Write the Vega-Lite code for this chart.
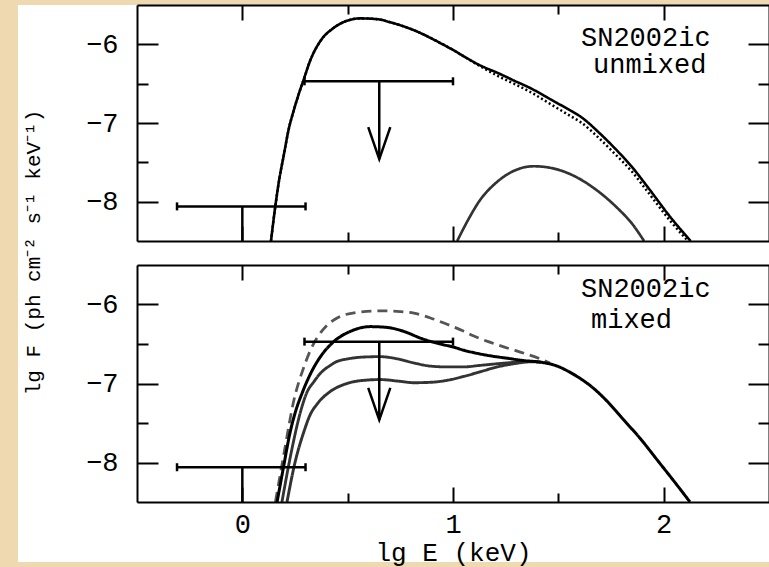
{
  "$schema": "https://vega.github.io/schema/vega-lite/v6.json",
  "background": "#EED9B1",
  "padding": {"left": 17, "top": 4, "right": 0, "bottom": 5},
  "bounds": "flush",
  "spacing": 24,
  "config": {
    "font": "Liberation Mono",
    "view": {"stroke": null},
    "axis": {
      "grid": false,
      "labelFont": "Liberation Mono",
      "labelFontSize": 27,
      "labelColor": "black",
      "titleFont": "Liberation Mono",
      "titleFontWeight": "normal",
      "titleColor": "black",
      "labelFlush": false,
      "labelOverlap": false
    }
  },
  "datasets": {
    "labels": [
      {"panel": "unmixed", "line": 1, "text": "SN2002ic"},
      {"panel": "unmixed", "line": 2, "text": "unmixed"},
      {"panel": "mixed", "line": 1, "text": "SN2002ic"},
      {"panel": "mixed", "line": 2, "text": "mixed"}
    ],
    "limits": [
      {"kind": "detection", "x": 0, "xlo": -0.31, "xhi": 0.3, "y": -8.06, "ylo": -8.5},
      {"kind": "upper", "x": 0.65, "xlo": 0.295, "xhi": 1.0, "y": -6.47, "ylo": -7.46}
    ],
    "curves": [
      {"panel": "unmixed", "series": "U dotted", "lgE": 0.136, "lgF": -8.5},
      {"panel": "unmixed", "series": "U dotted", "lgE": 0.157, "lgF": -8.05},
      {"panel": "unmixed", "series": "U dotted", "lgE": 0.175, "lgF": -7.72},
      {"panel": "unmixed", "series": "U dotted", "lgE": 0.196, "lgF": -7.42},
      {"panel": "unmixed", "series": "U dotted", "lgE": 0.22, "lgF": -7.08},
      {"panel": "unmixed", "series": "U dotted", "lgE": 0.244, "lgF": -6.84},
      {"panel": "unmixed", "series": "U dotted", "lgE": 0.268, "lgF": -6.63},
      {"panel": "unmixed", "series": "U dotted", "lgE": 0.291, "lgF": -6.45},
      {"panel": "unmixed", "series": "U dotted", "lgE": 0.323, "lgF": -6.2},
      {"panel": "unmixed", "series": "U dotted", "lgE": 0.37, "lgF": -5.96},
      {"panel": "unmixed", "series": "U dotted", "lgE": 0.434, "lgF": -5.79},
      {"panel": "unmixed", "series": "U dotted", "lgE": 0.497, "lgF": -5.7},
      {"panel": "unmixed", "series": "U dotted", "lgE": 0.56, "lgF": -5.67},
      {"panel": "unmixed", "series": "U dotted", "lgE": 0.64, "lgF": -5.68},
      {"panel": "unmixed", "series": "U dotted", "lgE": 0.703, "lgF": -5.72},
      {"panel": "unmixed", "series": "U dotted", "lgE": 0.814, "lgF": -5.82},
      {"panel": "unmixed", "series": "U dotted", "lgE": 0.972, "lgF": -6.03},
      {"panel": "unmixed", "series": "U dotted", "lgE": 1.131, "lgF": -6.28},
      {"panel": "unmixed", "series": "U dotted", "lgE": 1.226, "lgF": -6.42},
      {"panel": "unmixed", "series": "U dotted", "lgE": 1.289, "lgF": -6.5},
      {"panel": "unmixed", "series": "U dotted", "lgE": 1.37, "lgF": -6.61},
      {"panel": "unmixed", "series": "U dotted", "lgE": 1.463, "lgF": -6.76},
      {"panel": "unmixed", "series": "U dotted", "lgE": 1.55, "lgF": -6.9},
      {"panel": "unmixed", "series": "U dotted", "lgE": 1.606, "lgF": -6.99},
      {"panel": "unmixed", "series": "U dotted", "lgE": 1.7, "lgF": -7.21},
      {"panel": "unmixed", "series": "U dotted", "lgE": 1.764, "lgF": -7.38},
      {"panel": "unmixed", "series": "U dotted", "lgE": 1.85, "lgF": -7.62},
      {"panel": "unmixed", "series": "U dotted", "lgE": 1.923, "lgF": -7.87},
      {"panel": "unmixed", "series": "U dotted", "lgE": 2.033, "lgF": -8.25},
      {"panel": "unmixed", "series": "U dotted", "lgE": 2.115, "lgF": -8.5},

      {"panel": "unmixed", "series": "U total", "lgE": 0.136, "lgF": -8.5},
      {"panel": "unmixed", "series": "U total", "lgE": 0.157, "lgF": -8.05},
      {"panel": "unmixed", "series": "U total", "lgE": 0.175, "lgF": -7.72},
      {"panel": "unmixed", "series": "U total", "lgE": 0.196, "lgF": -7.42},
      {"panel": "unmixed", "series": "U total", "lgE": 0.22, "lgF": -7.08},
      {"panel": "unmixed", "series": "U total", "lgE": 0.244, "lgF": -6.84},
      {"panel": "unmixed", "series": "U total", "lgE": 0.268, "lgF": -6.63},
      {"panel": "unmixed", "series": "U total", "lgE": 0.291, "lgF": -6.45},
      {"panel": "unmixed", "series": "U total", "lgE": 0.323, "lgF": -6.2},
      {"panel": "unmixed", "series": "U total", "lgE": 0.37, "lgF": -5.96},
      {"panel": "unmixed", "series": "U total", "lgE": 0.434, "lgF": -5.79},
      {"panel": "unmixed", "series": "U total", "lgE": 0.497, "lgF": -5.7},
      {"panel": "unmixed", "series": "U total", "lgE": 0.56, "lgF": -5.67},
      {"panel": "unmixed", "series": "U total", "lgE": 0.64, "lgF": -5.68},
      {"panel": "unmixed", "series": "U total", "lgE": 0.703, "lgF": -5.72},
      {"panel": "unmixed", "series": "U total", "lgE": 0.814, "lgF": -5.82},
      {"panel": "unmixed", "series": "U total", "lgE": 0.972, "lgF": -6.03},
      {"panel": "unmixed", "series": "U total", "lgE": 1.131, "lgF": -6.27},
      {"panel": "unmixed", "series": "U total", "lgE": 1.226, "lgF": -6.38},
      {"panel": "unmixed", "series": "U total", "lgE": 1.289, "lgF": -6.46},
      {"panel": "unmixed", "series": "U total", "lgE": 1.37, "lgF": -6.56},
      {"panel": "unmixed", "series": "U total", "lgE": 1.463, "lgF": -6.7},
      {"panel": "unmixed", "series": "U total", "lgE": 1.55, "lgF": -6.83},
      {"panel": "unmixed", "series": "U total", "lgE": 1.606, "lgF": -6.92},
      {"panel": "unmixed", "series": "U total", "lgE": 1.7, "lgF": -7.14},
      {"panel": "unmixed", "series": "U total", "lgE": 1.764, "lgF": -7.31},
      {"panel": "unmixed", "series": "U total", "lgE": 1.85, "lgF": -7.56},
      {"panel": "unmixed", "series": "U total", "lgE": 1.923, "lgF": -7.81},
      {"panel": "unmixed", "series": "U total", "lgE": 2.033, "lgF": -8.2},
      {"panel": "unmixed", "series": "U total", "lgE": 2.128, "lgF": -8.5},

      {"panel": "unmixed", "series": "U thin", "lgE": 1.02, "lgF": -8.5},
      {"panel": "unmixed", "series": "U thin", "lgE": 1.07, "lgF": -8.24},
      {"panel": "unmixed", "series": "U thin", "lgE": 1.131, "lgF": -7.97},
      {"panel": "unmixed", "series": "U thin", "lgE": 1.2, "lgF": -7.77},
      {"panel": "unmixed", "series": "U thin", "lgE": 1.28, "lgF": -7.62},
      {"panel": "unmixed", "series": "U thin", "lgE": 1.384, "lgF": -7.55},
      {"panel": "unmixed", "series": "U thin", "lgE": 1.48, "lgF": -7.58},
      {"panel": "unmixed", "series": "U thin", "lgE": 1.58, "lgF": -7.68},
      {"panel": "unmixed", "series": "U thin", "lgE": 1.68, "lgF": -7.85},
      {"panel": "unmixed", "series": "U thin", "lgE": 1.78, "lgF": -8.08},
      {"panel": "unmixed", "series": "U thin", "lgE": 1.85, "lgF": -8.28},
      {"panel": "unmixed", "series": "U thin", "lgE": 1.907, "lgF": -8.5},

      {"panel": "mixed", "series": "M dashed", "lgE": 0.157, "lgF": -8.5},
      {"panel": "mixed", "series": "M dashed", "lgE": 0.2, "lgF": -7.85},
      {"panel": "mixed", "series": "M dashed", "lgE": 0.244, "lgF": -7.22},
      {"panel": "mixed", "series": "M dashed", "lgE": 0.291, "lgF": -6.8},
      {"panel": "mixed", "series": "M dashed", "lgE": 0.323, "lgF": -6.58},
      {"panel": "mixed", "series": "M dashed", "lgE": 0.355, "lgF": -6.42},
      {"panel": "mixed", "series": "M dashed", "lgE": 0.4, "lgF": -6.27},
      {"panel": "mixed", "series": "M dashed", "lgE": 0.45, "lgF": -6.17},
      {"panel": "mixed", "series": "M dashed", "lgE": 0.545, "lgF": -6.1},
      {"panel": "mixed", "series": "M dashed", "lgE": 0.656, "lgF": -6.08},
      {"panel": "mixed", "series": "M dashed", "lgE": 0.75, "lgF": -6.09},
      {"panel": "mixed", "series": "M dashed", "lgE": 0.814, "lgF": -6.11},
      {"panel": "mixed", "series": "M dashed", "lgE": 0.893, "lgF": -6.17},
      {"panel": "mixed", "series": "M dashed", "lgE": 0.972, "lgF": -6.25},
      {"panel": "mixed", "series": "M dashed", "lgE": 1.052, "lgF": -6.34},
      {"panel": "mixed", "series": "M dashed", "lgE": 1.099, "lgF": -6.4},
      {"panel": "mixed", "series": "M dashed", "lgE": 1.178, "lgF": -6.48},
      {"panel": "mixed", "series": "M dashed", "lgE": 1.257, "lgF": -6.55},
      {"panel": "mixed", "series": "M dashed", "lgE": 1.34, "lgF": -6.62},
      {"panel": "mixed", "series": "M dashed", "lgE": 1.416, "lgF": -6.69},
      {"panel": "mixed", "series": "M dashed", "lgE": 1.46, "lgF": -6.74},

      {"panel": "mixed", "series": "M thin 1", "lgE": 0.188, "lgF": -8.5},
      {"panel": "mixed", "series": "M thin 1", "lgE": 0.23, "lgF": -7.9},
      {"panel": "mixed", "series": "M thin 1", "lgE": 0.276, "lgF": -7.36},
      {"panel": "mixed", "series": "M thin 1", "lgE": 0.307, "lgF": -7.11},
      {"panel": "mixed", "series": "M thin 1", "lgE": 0.339, "lgF": -6.98},
      {"panel": "mixed", "series": "M thin 1", "lgE": 0.371, "lgF": -6.87},
      {"panel": "mixed", "series": "M thin 1", "lgE": 0.418, "lgF": -6.77},
      {"panel": "mixed", "series": "M thin 1", "lgE": 0.45, "lgF": -6.72},
      {"panel": "mixed", "series": "M thin 1", "lgE": 0.497, "lgF": -6.69},
      {"panel": "mixed", "series": "M thin 1", "lgE": 0.576, "lgF": -6.665},
      {"panel": "mixed", "series": "M thin 1", "lgE": 0.656, "lgF": -6.66},
      {"panel": "mixed", "series": "M thin 1", "lgE": 0.72, "lgF": -6.68},
      {"panel": "mixed", "series": "M thin 1", "lgE": 0.814, "lgF": -6.74},
      {"panel": "mixed", "series": "M thin 1", "lgE": 0.893, "lgF": -6.78},
      {"panel": "mixed", "series": "M thin 1", "lgE": 0.972, "lgF": -6.79},
      {"panel": "mixed", "series": "M thin 1", "lgE": 1.05, "lgF": -6.79},
      {"panel": "mixed", "series": "M thin 1", "lgE": 1.131, "lgF": -6.77},
      {"panel": "mixed", "series": "M thin 1", "lgE": 1.21, "lgF": -6.75},
      {"panel": "mixed", "series": "M thin 1", "lgE": 1.3, "lgF": -6.73},
      {"panel": "mixed", "series": "M thin 1", "lgE": 1.37, "lgF": -6.72},
      {"panel": "mixed", "series": "M thin 1", "lgE": 1.416, "lgF": -6.73},

      {"panel": "mixed", "series": "M thin 2", "lgE": 0.212, "lgF": -8.5},
      {"panel": "mixed", "series": "M thin 2", "lgE": 0.25, "lgF": -8.0},
      {"panel": "mixed", "series": "M thin 2", "lgE": 0.291, "lgF": -7.62},
      {"panel": "mixed", "series": "M thin 2", "lgE": 0.323, "lgF": -7.39},
      {"panel": "mixed", "series": "M thin 2", "lgE": 0.355, "lgF": -7.26},
      {"panel": "mixed", "series": "M thin 2", "lgE": 0.418, "lgF": -7.1},
      {"panel": "mixed", "series": "M thin 2", "lgE": 0.497, "lgF": -7.0},
      {"panel": "mixed", "series": "M thin 2", "lgE": 0.576, "lgF": -6.96},
      {"panel": "mixed", "series": "M thin 2", "lgE": 0.656, "lgF": -6.95},
      {"panel": "mixed", "series": "M thin 2", "lgE": 0.74, "lgF": -6.97},
      {"panel": "mixed", "series": "M thin 2", "lgE": 0.814, "lgF": -6.99},
      {"panel": "mixed", "series": "M thin 2", "lgE": 0.893, "lgF": -6.985},
      {"panel": "mixed", "series": "M thin 2", "lgE": 0.972, "lgF": -6.96},
      {"panel": "mixed", "series": "M thin 2", "lgE": 1.052, "lgF": -6.91},
      {"panel": "mixed", "series": "M thin 2", "lgE": 1.131, "lgF": -6.85},
      {"panel": "mixed", "series": "M thin 2", "lgE": 1.21, "lgF": -6.79},
      {"panel": "mixed", "series": "M thin 2", "lgE": 1.3, "lgF": -6.745},
      {"panel": "mixed", "series": "M thin 2", "lgE": 1.37, "lgF": -6.725},
      {"panel": "mixed", "series": "M thin 2", "lgE": 1.416, "lgF": -6.73},

      {"panel": "mixed", "series": "M thick", "lgE": 0.165, "lgF": -8.5},
      {"panel": "mixed", "series": "M thick", "lgE": 0.196, "lgF": -8.05},
      {"panel": "mixed", "series": "M thick", "lgE": 0.225, "lgF": -7.64},
      {"panel": "mixed", "series": "M thick", "lgE": 0.252, "lgF": -7.36},
      {"panel": "mixed", "series": "M thick", "lgE": 0.284, "lgF": -7.12},
      {"panel": "mixed", "series": "M thick", "lgE": 0.323, "lgF": -6.88},
      {"panel": "mixed", "series": "M thick", "lgE": 0.371, "lgF": -6.66},
      {"panel": "mixed", "series": "M thick", "lgE": 0.434, "lgF": -6.47},
      {"panel": "mixed", "series": "M thick", "lgE": 0.513, "lgF": -6.34},
      {"panel": "mixed", "series": "M thick", "lgE": 0.608, "lgF": -6.28},
      {"panel": "mixed", "series": "M thick", "lgE": 0.687, "lgF": -6.29},
      {"panel": "mixed", "series": "M thick", "lgE": 0.766, "lgF": -6.34},
      {"panel": "mixed", "series": "M thick", "lgE": 0.85, "lgF": -6.43},
      {"panel": "mixed", "series": "M thick", "lgE": 0.94, "lgF": -6.5},
      {"panel": "mixed", "series": "M thick", "lgE": 1.004, "lgF": -6.54},
      {"panel": "mixed", "series": "M thick", "lgE": 1.052, "lgF": -6.58},
      {"panel": "mixed", "series": "M thick", "lgE": 1.1, "lgF": -6.61},
      {"panel": "mixed", "series": "M thick", "lgE": 1.178, "lgF": -6.65},
      {"panel": "mixed", "series": "M thick", "lgE": 1.257, "lgF": -6.68},
      {"panel": "mixed", "series": "M thick", "lgE": 1.336, "lgF": -6.71},
      {"panel": "mixed", "series": "M thick", "lgE": 1.416, "lgF": -6.73},
      {"panel": "mixed", "series": "M thick", "lgE": 1.495, "lgF": -6.78},
      {"panel": "mixed", "series": "M thick", "lgE": 1.55, "lgF": -6.85},
      {"panel": "mixed", "series": "M thick", "lgE": 1.606, "lgF": -6.94},
      {"panel": "mixed", "series": "M thick", "lgE": 1.653, "lgF": -7.03},
      {"panel": "mixed", "series": "M thick", "lgE": 1.73, "lgF": -7.22},
      {"panel": "mixed", "series": "M thick", "lgE": 1.81, "lgF": -7.46},
      {"panel": "mixed", "series": "M thick", "lgE": 1.89, "lgF": -7.7},
      {"panel": "mixed", "series": "M thick", "lgE": 1.97, "lgF": -7.97},
      {"panel": "mixed", "series": "M thick", "lgE": 2.05, "lgF": -8.24},
      {"panel": "mixed", "series": "M thick", "lgE": 2.125, "lgF": -8.5}
    ]
  },
  "vconcat": [
    {
      "width": 632,
      "height": 236,
      "resolve": {"axis": {"x": "independent", "y": "independent"}},
      "layer": [
        {
          "data": {"name": "labels"},
          "transform": [{"filter": "datum.panel === 'unmixed' && datum.line === 1"}],
          "mark": {"type": "rect", "color": "white"},
          "encoding": {
            "x": {"datum": -1.065, "type": "quantitative", "scale": {"domain": [-0.5, 2.5], "nice": false, "zero": false}, "axis": null},
            "x2": {"datum": 2.504},
            "y": {"datum": -5.5, "type": "quantitative", "scale": {"domain": [-8.5, -5.5], "nice": false, "zero": false}, "axis": null},
            "y2": {"datum": -8.7}
          }
        },
        {
          "data": {"name": "curves"},
          "transform": [{"filter": "datum.panel === 'unmixed'"}],
          "mark": {"type": "line", "interpolate": "monotone", "clip": true},
          "encoding": {
            "x": {"field": "lgE", "type": "quantitative", "scale": {"domain": [-0.5, 2.5], "nice": false, "zero": false}, "axis": null},
            "y": {"field": "lgF", "type": "quantitative", "scale": {"domain": [-8.5, -5.5], "nice": false, "zero": false},
              "axis": {"orient": "left", "zindex": 1, "values": [-8, -7, -6], "ticks": false, "domain": false, "labelPadding": 19, "title": null}},
            "detail": {"field": "series"},
            "color": {"field": "series", "legend": null, "scale": {"domain": ["U dotted", "U total", "U thin", "M dashed", "M thin 1", "M thin 2", "M thick"], "range": ["black", "black", "#333333", "#555555", "#333333", "#333333", "black"]}},
            "strokeWidth": {"field": "series", "legend": null, "scale": {"domain": ["U dotted", "U total", "U thin", "M dashed", "M thin 1", "M thin 2", "M thick"], "range": [2.5, 3, 1.2, 1.2, 1.2, 1.2, 3]}},
            "strokeDash": {"field": "series", "legend": null, "scale": {"domain": ["U dotted", "U total", "U thin", "M dashed", "M thin 1", "M thin 2", "M thick"], "range": [[2, 2.5], [1, 0], [1, 0], [10, 6], [1, 0], [1, 0], [1, 0]]}}
          }
        },
        {
          "data": {"name": "limits"},
          "mark": {"type": "rule", "strokeWidth": 2.5, "color": "black"},
          "encoding": {
            "x": {"field": "xlo", "type": "quantitative", "scale": {"domain": [-0.5, 2.5], "nice": false, "zero": false},
              "axis": {"orient": "bottom", "zindex": 1, "labels": false, "title": null, "values": [0, 0.5, 1, 1.5, 2], "domainWidth": 2, "domainColor": "black", "tickWidth": 2, "tickColor": "black",
                "tickSize": {"condition": {"test": "datum.value % 1 !== 0", "value": -9}, "value": -15}}},
            "x2": {"field": "xhi"},
            "y": {"field": "y", "type": "quantitative", "scale": {"domain": [-8.5, -5.5], "nice": false, "zero": false},
              "axis": {"orient": "left", "zindex": 1, "labels": false, "title": null, "values": [-8, -7.5, -7, -6.5, -6], "domainWidth": 2, "domainColor": "black", "tickWidth": 2, "tickColor": "black",
                "tickSize": {"condition": {"test": "datum.value % 1 !== 0", "value": -11}, "value": -21}}}
          }
        },
        {
          "data": {"name": "limits"},
          "mark": {"type": "rule", "strokeWidth": 2.5, "color": "black"},
          "encoding": {
            "x": {"field": "x", "type": "quantitative", "scale": {"domain": [-0.5, 2.5], "nice": false, "zero": false},
              "axis": {"orient": "top", "zindex": 1, "labels": false, "title": null, "values": [0, 0.5, 1, 1.5, 2], "domainWidth": 2, "domainColor": "black", "tickWidth": 2, "tickColor": "black",
                "tickSize": {"condition": {"test": "datum.value % 1 !== 0", "value": -9}, "value": -15}}},
            "y": {"field": "y", "type": "quantitative", "scale": {"domain": [-8.5, -5.5], "nice": false, "zero": false},
              "axis": {"orient": "right", "zindex": 1, "labels": false, "title": null, "values": [-8, -7.5, -7, -6.5, -6], "domainWidth": 2, "domainColor": "black", "tickWidth": 2, "tickColor": "black",
                "tickSize": {"condition": {"test": "datum.value % 1 !== 0", "value": -11}, "value": -21}}},
            "y2": {"field": "ylo"}
          }
        },
        {
          "data": {"name": "limits"},
          "transform": [{"fold": ["xlo", "xhi"], "as": ["end", "xe"]}],
          "mark": {"type": "point", "shape": "M0,-1L0,1", "size": 64, "filled": false, "strokeWidth": 2.5, "color": "black", "opacity": 1},
          "encoding": {
            "x": {"field": "xe", "type": "quantitative", "scale": {"domain": [-0.5, 2.5], "nice": false, "zero": false}, "axis": null},
            "y": {"field": "y", "type": "quantitative", "scale": {"domain": [-8.5, -5.5], "nice": false, "zero": false}, "axis": null}
          }
        },
        {
          "data": {"name": "limits"},
          "transform": [{"filter": "datum.kind === 'upper'"}],
          "mark": {"type": "point", "shape": "M-0.69,-2L0,0L0.69,-2", "size": 1024, "filled": false, "strokeWidth": 2.5, "color": "black", "opacity": 1},
          "encoding": {
            "x": {"field": "x", "type": "quantitative", "scale": {"domain": [-0.5, 2.5], "nice": false, "zero": false}, "axis": null},
            "y": {"field": "ylo", "type": "quantitative", "scale": {"domain": [-8.5, -5.5], "nice": false, "zero": false}, "axis": null}
          }
        },
        {
          "data": {"name": "labels"},
          "transform": [{"filter": "datum.panel === 'unmixed' && datum.line === 1"}],
          "mark": {"type": "text", "align": "left", "baseline": "alphabetic", "font": "Liberation Mono", "fontSize": 27, "color": "black"},
          "encoding": {
            "x": {"datum": 1.6076, "type": "quantitative", "scale": {"domain": [-0.5, 2.5], "nice": false, "zero": false}, "axis": null},
            "y": {"datum": -6.02, "type": "quantitative", "scale": {"domain": [-8.5, -5.5], "nice": false, "zero": false}, "axis": null},
            "text": {"field": "text"}
          }
        },
        {
          "data": {"name": "labels"},
          "transform": [{"filter": "datum.panel === 'unmixed' && datum.line === 2"}],
          "mark": {"type": "text", "align": "left", "baseline": "alphabetic", "font": "Liberation Mono", "fontSize": 27, "color": "black"},
          "encoding": {
            "x": {"datum": 1.6646, "type": "quantitative", "scale": {"domain": [-0.5, 2.5], "nice": false, "zero": false}, "axis": null},
            "y": {"datum": -6.37, "type": "quantitative", "scale": {"domain": [-8.5, -5.5], "nice": false, "zero": false}, "axis": null},
            "text": {"field": "text"}
          }
        }
      ]
    },
    {
      "width": 632,
      "height": 237,
      "resolve": {"axis": {"x": "independent", "y": "independent"}},
      "layer": [
        {
          "data": {"name": "labels"},
          "transform": [{"filter": "datum.panel === 'mixed' && datum.line === 1"}],
          "mark": {"type": "rect", "color": "white"},
          "encoding": {
            "x": {"datum": -1.065, "type": "quantitative", "scale": {"domain": [-0.5, 2.5], "nice": false, "zero": false}, "axis": null},
            "x2": {"datum": 2.504},
            "y": {"datum": -5.3, "type": "quantitative", "scale": {"domain": [-8.5, -5.5], "nice": false, "zero": false}, "axis": null},
            "y2": {"datum": -9.26}
          }
        },
        {
          "data": {"name": "curves"},
          "transform": [{"filter": "datum.panel === 'mixed'"}],
          "mark": {"type": "line", "interpolate": "monotone", "clip": true},
          "encoding": {
            "x": {"field": "lgE", "type": "quantitative", "scale": {"domain": [-0.5, 2.5], "nice": false, "zero": false},
              "axis": {"orient": "bottom", "zindex": 1, "values": [0, 1, 2], "ticks": false, "domain": false, "labelPadding": 9,
                "title": "lg E (keV)", "titleFontSize": 26, "titleY": 50, "titleBaseline": "middle"}},
            "y": {"field": "lgF", "type": "quantitative", "scale": {"domain": [-8.5, -5.5], "nice": false, "zero": false},
              "axis": {"orient": "left", "zindex": 1, "values": [-8, -7, -6], "ticks": false, "domain": false, "labelPadding": 19,
                "title": "lg F (ph cm⁻² s⁻¹ keV⁻¹)", "titleFontSize": 21, "titleAngle": 270, "titleX": -104, "titleY": -13,
                "titleAlign": "center", "titleBaseline": "middle"}},
            "detail": {"field": "series"},
            "color": {"field": "series", "legend": null, "scale": {"domain": ["U dotted", "U total", "U thin", "M dashed", "M thin 1", "M thin 2", "M thick"], "range": ["black", "black", "#333333", "#555555", "#333333", "#333333", "black"]}},
            "strokeWidth": {"field": "series", "legend": null, "scale": {"domain": ["U dotted", "U total", "U thin", "M dashed", "M thin 1", "M thin 2", "M thick"], "range": [2.5, 3, 1.2, 1.2, 1.2, 1.2, 3]}},
            "strokeDash": {"field": "series", "legend": null, "scale": {"domain": ["U dotted", "U total", "U thin", "M dashed", "M thin 1", "M thin 2", "M thick"], "range": [[2, 2.5], [1, 0], [1, 0], [10, 6], [1, 0], [1, 0], [1, 0]]}}
          }
        },
        {
          "data": {"name": "limits"},
          "mark": {"type": "rule", "strokeWidth": 2.5, "color": "black"},
          "encoding": {
            "x": {"field": "xlo", "type": "quantitative", "scale": {"domain": [-0.5, 2.5], "nice": false, "zero": false},
              "axis": {"orient": "bottom", "zindex": 1, "labels": false, "title": null, "values": [0, 0.5, 1, 1.5, 2], "domainWidth": 2, "domainColor": "black", "tickWidth": 2, "tickColor": "black",
                "tickSize": {"condition": {"test": "datum.value % 1 !== 0", "value": -9}, "value": -15}}},
            "x2": {"field": "xhi"},
            "y": {"field": "y", "type": "quantitative", "scale": {"domain": [-8.5, -5.5], "nice": false, "zero": false},
              "axis": {"orient": "left", "zindex": 1, "labels": false, "title": null, "values": [-8, -7.5, -7, -6.5, -6], "domainWidth": 2, "domainColor": "black", "tickWidth": 2, "tickColor": "black",
                "tickSize": {"condition": {"test": "datum.value % 1 !== 0", "value": -11}, "value": -21}}}
          }
        },
        {
          "data": {"name": "limits"},
          "mark": {"type": "rule", "strokeWidth": 2.5, "color": "black"},
          "encoding": {
            "x": {"field": "x", "type": "quantitative", "scale": {"domain": [-0.5, 2.5], "nice": false, "zero": false},
              "axis": {"orient": "top", "zindex": 1, "labels": false, "title": null, "values": [0, 0.5, 1, 1.5, 2], "domainWidth": 2, "domainColor": "black", "tickWidth": 2, "tickColor": "black",
                "tickSize": {"condition": {"test": "datum.value % 1 !== 0", "value": -9}, "value": -15}}},
            "y": {"field": "y", "type": "quantitative", "scale": {"domain": [-8.5, -5.5], "nice": false, "zero": false},
              "axis": {"orient": "right", "zindex": 1, "labels": false, "title": null, "values": [-8, -7.5, -7, -6.5, -6], "domainWidth": 2, "domainColor": "black", "tickWidth": 2, "tickColor": "black",
                "tickSize": {"condition": {"test": "datum.value % 1 !== 0", "value": -11}, "value": -21}}},
            "y2": {"field": "ylo"}
          }
        },
        {
          "data": {"name": "limits"},
          "transform": [{"fold": ["xlo", "xhi"], "as": ["end", "xe"]}],
          "mark": {"type": "point", "shape": "M0,-1L0,1", "size": 64, "filled": false, "strokeWidth": 2.5, "color": "black", "opacity": 1},
          "encoding": {
            "x": {"field": "xe", "type": "quantitative", "scale": {"domain": [-0.5, 2.5], "nice": false, "zero": false}, "axis": null},
            "y": {"field": "y", "type": "quantitative", "scale": {"domain": [-8.5, -5.5], "nice": false, "zero": false}, "axis": null}
          }
        },
        {
          "data": {"name": "limits"},
          "transform": [{"filter": "datum.kind === 'upper'"}],
          "mark": {"type": "point", "shape": "M-0.69,-2L0,0L0.69,-2", "size": 1024, "filled": false, "strokeWidth": 2.5, "color": "black", "opacity": 1},
          "encoding": {
            "x": {"field": "x", "type": "quantitative", "scale": {"domain": [-0.5, 2.5], "nice": false, "zero": false}, "axis": null},
            "y": {"field": "ylo", "type": "quantitative", "scale": {"domain": [-8.5, -5.5], "nice": false, "zero": false}, "axis": null}
          }
        },
        {
          "data": {"name": "labels"},
          "transform": [{"filter": "datum.panel === 'mixed' && datum.line === 1"}],
          "mark": {"type": "text", "align": "left", "baseline": "alphabetic", "font": "Liberation Mono", "fontSize": 27, "color": "black"},
          "encoding": {
            "x": {"datum": 1.6076, "type": "quantitative", "scale": {"domain": [-0.5, 2.5], "nice": false, "zero": false}, "axis": null},
            "y": {"datum": -5.909, "type": "quantitative", "scale": {"domain": [-8.5, -5.5], "nice": false, "zero": false}, "axis": null},
            "text": {"field": "text"}
          }
        },
        {
          "data": {"name": "labels"},
          "transform": [{"filter": "datum.panel === 'mixed' && datum.line === 2"}],
          "mark": {"type": "text", "align": "left", "baseline": "alphabetic", "font": "Liberation Mono", "fontSize": 27, "color": "black"},
          "encoding": {
            "x": {"datum": 1.655, "type": "quantitative", "scale": {"domain": [-0.5, 2.5], "nice": false, "zero": false}, "axis": null},
            "y": {"datum": -6.301, "type": "quantitative", "scale": {"domain": [-8.5, -5.5], "nice": false, "zero": false}, "axis": null},
            "text": {"field": "text"}
          }
        }
      ]
    }
  ]
}
